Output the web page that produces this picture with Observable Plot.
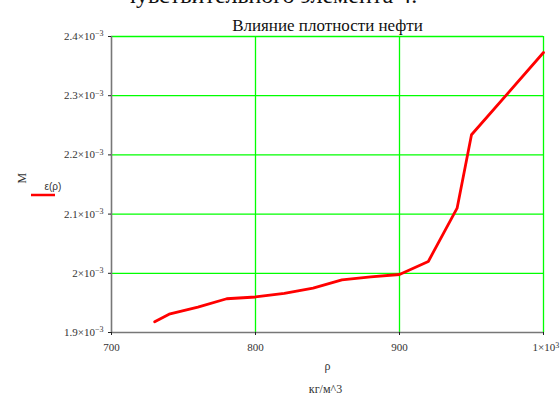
<!DOCTYPE html>
<html><head><meta charset="utf-8">
<script src="https://cdn.jsdelivr.net/npm/d3@7"></script>
<script src="https://cdn.jsdelivr.net/npm/@observablehq/plot@0.6"></script>
<style>
body{margin:0;background:#fff}
#c{width:560px;height:396px;overflow:hidden}
#c svg, #c svg text{font-family:"Liberation Serif", serif !important}
#c svg text.sans{font-family:"Liberation Sans", sans-serif !important}
</style>
</head><body><div id="c"></div>
<script>
// data (density, kg/m^3) and epsilon values
const rho = [730, 740, 760, 780, 800, 820, 840, 860, 880, 900, 920, 940, 950, 1000];
const eps = [0.001918, 0.001931, 0.001943, 0.001957, 0.001960, 0.001966, 0.001975, 0.001989, 0.001994, 0.001998, 0.002020, 0.002110, 0.002234, 0.002373];
const xTicks = [700, 800, 900, 1000];
const xTickLabels = ["700", "800", "900", "1×10"];
const xTickSup = ["", "", "", "3"];
const yTicks = [0.0019, 0.0020, 0.0021, 0.0022, 0.0023, 0.0024];
const yTickLabels = ["1.9×10", "2×10", "2.1×10", "2.2×10", "2.3×10", "2.4×10"];
const ySup = "−3";
const title = "Влияние плотности нефти";
const topCut = "чувствительного элемента 4.";
const xLabel = "ρ";
const xUnit = "кг/м^3";
const yLabel = "M";
const legendLabel = "ε(ρ)";

const data = rho.map((r, i) => ({rho: r, eps: eps[i]}));

const chart = Plot.plot({
  width: 560, height: 396,
  marginLeft: 111, marginRight: 17, marginTop: 36, marginBottom: 64,
  style: {fontSize: "11px", color: "#333", background: "#fff"},
  x: {domain: [700, 1000]},
  y: {domain: [0.0019, 0.0024]},
  marks: [
    Plot.gridX(xTicks.slice(1), {stroke: "#00ff00", strokeOpacity: 1, strokeWidth: 1.3}),
    Plot.gridY(yTicks.slice(1), {stroke: "#00ff00", strokeOpacity: 1, strokeWidth: 1.3}),
    Plot.ruleX([700], {stroke: "#777", strokeWidth: 1.6}),
    Plot.ruleY([0.0019], {stroke: "#777", strokeWidth: 1.6}),
    Plot.axisX({ticks: xTicks, tickFormat: (d) => xTickLabels[xTicks.indexOf(d)], tickSize: 3, tickPadding: 8, stroke: "#222", label: null, fontSize: 11, fill: "#333"}),
    Plot.axisY({ticks: yTicks, tickFormat: (d) => yTickLabels[yTicks.findIndex(t => Math.abs(t - d) < 1e-9)], tickSize: 3, tickPadding: 5, stroke: "#222", label: null, fontSize: 11, fill: "#333"}),
    Plot.line(data, {x: "rho", y: "eps", stroke: "#ff0000", strokeWidth: 2.8}),
    Plot.text([title], {frameAnchor: "top", dy: -18, fontSize: 17, fill: "#111"}),
    Plot.text([topCut], {frameAnchor: "top-left", dx: 159, dy: -34, fontSize: 24, fill: "#111", lineAnchor: "bottom", textAnchor: "middle"}),
    Plot.text([xLabel], {frameAnchor: "bottom", dy: 37, fontSize: 12, fill: "#333"}),
    Plot.text([xUnit], {frameAnchor: "bottom", dy: 60, dx: -2, fontSize: 12, fill: "#333"}),
    Plot.text([yLabel], {frameAnchor: "top-left", dx: -94, dy: 147, rotate: -90, fontSize: 12, fill: "#333"}),
    Plot.text([legendLabel], {frameAnchor: "top-left", dx: -67, dy: 146, fontSize: 10, fill: "#333", className: "legendtxt"})
  ]
});
document.getElementById("c").appendChild(chart);

const svg = d3.select(chart);
svg.selectAll("g.legendtxt text, .legendtxt text").classed("sans", true);
// superscripts on tick labels
svg.selectAll('g[aria-label="y-axis tick label"] text').each(function() {
  d3.select(this).append("tspan").attr("dy", "-0.45em").attr("font-size", "8px").text(ySup);
});
svg.selectAll('g[aria-label="x-axis tick label"] text').each(function() {
  const t = d3.select(this);
  const k = xTickLabels.indexOf(t.text());
  if (k >= 0 && xTickSup[k]) {
    t.attr("text-anchor", "start").attr("dx", "-11px");
    t.append("tspan").attr("dy", "-0.45em").attr("font-size", "8px").text(xTickSup[k]);
  }
});
// legend swatch
svg.append("line").attr("x1", 31).attr("x2", 55).attr("y1", 195).attr("y2", 195)
  .attr("stroke", "#ff0000").attr("stroke-width", 2.5);
</script>
</body></html>
